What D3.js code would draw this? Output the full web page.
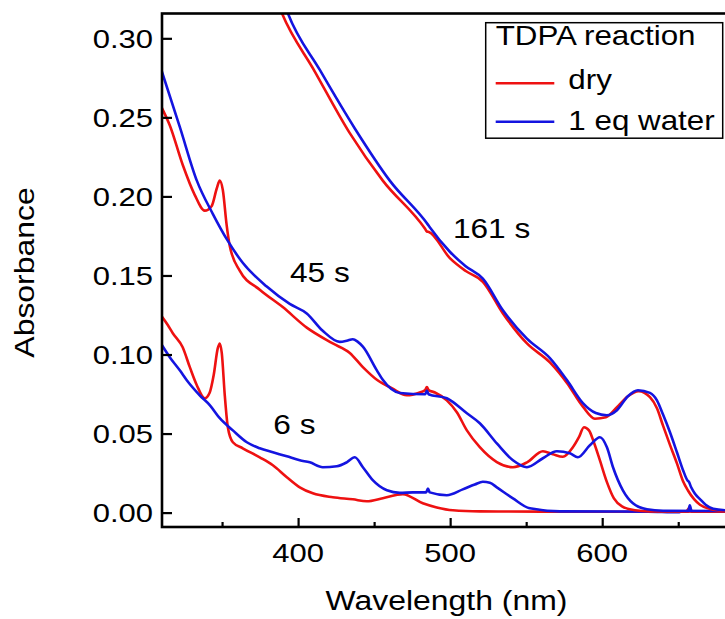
<!DOCTYPE html>
<html>
<head>
<meta charset="utf-8">
<script src="https://cdn.jsdelivr.net/npm/d3@7"></script>
<style>
  html, body { margin: 0; padding: 0; background: #fff; }
  svg { display: block; font-family: "Liberation Sans", Arial, sans-serif; }
</style>
</head>
<body>
<svg id="chart" width="725" height="619"></svg>
<script>
// axis ranges and ticks
const wavelengthRange = [310.5, 684.7];
const absorbanceRange = [-0.0091, 0.3157];
const xMajorTicks = [400, 500, 600];
const xMinorTicks = [350, 450, 550, 650];
const yTicks = [0, 0.05, 0.10, 0.15, 0.20, 0.25, 0.30];

// spectra: [wavelength nm, absorbance]
const dry6 = [
  [310.4, 0.124], [314.4, 0.1185], [317.6, 0.1135], [324.1, 0.1046], [328.8, 0.092],
  [333.4, 0.0806], [338.6, 0.0723], [341.9, 0.076], [344.5, 0.087], [347.2, 0.104],
  [348.5, 0.107], [349.8, 0.101], [351.8, 0.074], [353.8, 0.054], [357.1, 0.0445],
  [363.6, 0.0407], [374.8, 0.035], [383.4, 0.030], [392.6, 0.0224], [401.1, 0.016],
  [409.7, 0.0122], [422.8, 0.0097], [436.0, 0.0084], [445.2, 0.0072], [455.7, 0.0091],
  [468.9, 0.0116], [482.0, 0.0059], [491.2, 0.0033], [501.8, 0.0015], [519.5, 0.0008],
  [560, 0.0006], [620, 0.0005], [655, 0.0006], [657.5, 0.003], [659, 0.0006], [685, 0.0005]
];
const water6 = [
  [310.4, 0.106], [315.6, 0.0983], [322.2, 0.090], [326.8, 0.0837], [335.3, 0.0742],
  [341.9, 0.068], [348.5, 0.0597], [357.1, 0.052], [366.3, 0.0445], [374.8, 0.0407],
  [383.4, 0.0382], [392.6, 0.0356], [401.1, 0.0331], [407.7, 0.0318], [416.2, 0.0287],
  [425.5, 0.0293], [432.0, 0.0318], [437.3, 0.035], [442.6, 0.0287], [449.1, 0.0205],
  [458.4, 0.0141], [466.9, 0.0125], [475.5, 0.0128], [484.2, 0.0128], [485.4, 0.0152],
  [486.6, 0.0128], [497.8, 0.011], [508.3, 0.0147], [516.2, 0.0178], [521.5, 0.0195],
  [526.1, 0.0189], [530.7, 0.016], [541.3, 0.009], [552.4, 0.0027], [572.2, 0.0008],
  [630, 0.0006], [650, 0.0002], [653, 0.0009], [656.5, 0.0006], [657.6, 0.0047],
  [658.8, 0.0008], [685, 0.0006]
];
const dry45 = [
  [310.4, 0.256], [315.6, 0.245], [324.1, 0.220], [332.0, 0.201], [338.6, 0.191],
  [343.2, 0.194], [346.5, 0.205], [348.5, 0.210], [350.5, 0.204], [353.0, 0.182],
  [355.0, 0.169], [361.6, 0.153], [374.8, 0.141], [389.9, 0.130], [405.7, 0.117],
  [422.8, 0.107], [434.0, 0.101], [442.6, 0.092], [451.8, 0.084], [461.6, 0.0787],
  [471.5, 0.0742], [480.0, 0.076], [483.6, 0.0775], [484.7, 0.0795], [485.8, 0.0775],
  [490.0, 0.076], [497.8, 0.071], [504.4, 0.0635], [511.0, 0.052], [519.5, 0.0414],
  [530.7, 0.032], [541.3, 0.0287], [550.5, 0.0318], [561.0, 0.0388], [567.6, 0.0369],
  [574.1, 0.0353], [580.7, 0.0413], [584.7, 0.0477], [588.0, 0.054], [591.3, 0.052],
  [594.5, 0.0445], [598.5, 0.033], [603.1, 0.0193], [607.7, 0.009], [613.0, 0.004],
  [621.5, 0.0015], [631.4, 0.0008], [685, 0.0006]
];
const water45 = [
  [310.4, 0.279], [322.2, 0.244], [333.4, 0.210], [343.9, 0.189], [353.7, 0.172],
  [363.6, 0.158], [379.4, 0.143], [394.5, 0.132], [405.7, 0.126], [416.2, 0.115],
  [427.4, 0.108], [432.0, 0.1087], [436.0, 0.1097], [439.3, 0.108], [442.6, 0.105],
  [451.8, 0.090], [455.7, 0.084], [466.9, 0.0757], [483.6, 0.0749], [484.7, 0.0772],
  [485.8, 0.0749], [497.8, 0.0723], [511.0, 0.0628], [519.5, 0.0565], [530.7, 0.0438],
  [541.3, 0.0331], [550.5, 0.0287], [561.0, 0.0344], [570.2, 0.0388], [578.7, 0.0375],
  [584.0, 0.035], [591.9, 0.0426], [598.5, 0.0477], [603.1, 0.0413], [607.1, 0.0287],
  [613.6, 0.0141], [620.2, 0.0059], [629.4, 0.0021], [640, 0.0012], [685, 0.001]
];
const dry161 = [
  [380.0, 0.340], [389.3, 0.316], [411.0, 0.279], [434.0, 0.240], [455.7, 0.210],
  [483.5, 0.1795], [484.7, 0.1778], [486.0, 0.1775], [499.8, 0.161], [510.0, 0.153],
  [521.5, 0.146], [534.7, 0.126], [550.5, 0.107], [565.6, 0.095], [576.8, 0.082],
  [587.3, 0.067], [595.2, 0.0594], [602.4, 0.0603], [609.7, 0.0667], [616.9, 0.0736],
  [624.0, 0.0768], [631.4, 0.073], [636.0, 0.066], [640.0, 0.055], [644.5, 0.043],
  [649.2, 0.031], [653.1, 0.020], [656.4, 0.014], [660.4, 0.0085], [664.3, 0.005],
  [670.9, 0.0023], [680.7, 0.001], [685, 0.0009]
];
const water161 = [
  [384.7, 0.340], [393.2, 0.316], [414.3, 0.280], [437.3, 0.243], [460.3, 0.210],
  [485.5, 0.182], [486.6, 0.1805], [499.8, 0.165], [510.0, 0.156], [521.5, 0.148],
  [534.7, 0.128], [550.5, 0.110], [565.6, 0.0977], [576.8, 0.0838], [587.3, 0.0693],
  [595.8, 0.063], [603.0, 0.0616], [609.7, 0.0648], [616.9, 0.0736], [623.5, 0.0774],
  [631.4, 0.0757], [636.0, 0.071], [640.0, 0.062], [644.5, 0.051], [649.2, 0.038],
  [653.1, 0.027], [656.0, 0.0205], [657.0, 0.0195], [658.5, 0.016], [661.0, 0.012],
  [664.3, 0.0085], [668.0, 0.005], [673.0, 0.0025], [685, 0.0012]
];

const seriesNames = ['dry', '1 eq water'];
const seriesColors = ['#ee1111', '#1414e0'];
const timeLabels = ['6 s', '45 s', '161 s'];

const svg = d3.select('#chart');
const margin = { top: 13.5, left: 162 };
const plotW = 569;
const plotH = 513.5;

const x = d3.scaleLinear().domain(wavelengthRange).range([margin.left, margin.left + plotW]);
const y = d3.scaleLinear().domain(absorbanceRange).range([margin.top + plotH, margin.top]);

// text stretched horizontally like the source figure
function label(g, px, py, str, size, anchor, sx, rot) {
  const t = g.append('g')
    .attr('transform', 'translate(' + px + ',' + py + ')' + (rot ? ' rotate(' + rot + ')' : '') + ' scale(' + sx + ',1)');
  t.append('text')
    .attr('text-anchor', anchor)
    .attr('font-size', size)
    .attr('fill', '#000')
    .text(str);
  return t;
}

svg.append('defs').append('clipPath').attr('id', 'plotClip')
  .append('rect')
  .attr('x', margin.left).attr('y', margin.top)
  .attr('width', plotW).attr('height', plotH);

// Lines
const line = d3.line()
  .x((d) => x(d[0]))
  .y((d) => y(d[1]))
  .curve(d3.curveMonotoneX);

const lineGroup = svg.append('g').attr('clip-path', 'url(#plotClip)');
const groups = [[dry6, water6], [dry45, water45], [dry161, water161]];
groups.forEach((pair) => {
  pair.forEach((data, i) => {
    lineGroup.append('path')
      .datum(data)
      .attr('d', line)
      .attr('fill', 'none')
      .attr('stroke', seriesColors[i])
      .attr('stroke-width', 2.6)
      .attr('stroke-linejoin', 'round')
      .attr('stroke-linecap', 'round');
  });
});

// Frame
svg.append('rect')
  .attr('x', margin.left).attr('y', margin.top)
  .attr('width', plotW).attr('height', plotH)
  .attr('fill', 'none')
  .attr('stroke', '#000')
  .attr('stroke-width', 2.6);

// Axes, ticks inward
const xAxis = d3.axisBottom(x).tickValues(xMajorTicks).tickSize(-9).tickFormat('');
const xMinor = d3.axisBottom(x).tickValues(xMinorTicks).tickSize(-5).tickFormat('');
const yAxis = d3.axisLeft(y).tickValues(yTicks).tickSize(-10).tickFormat('');

[
  svg.append('g').attr('transform', 'translate(0,' + (margin.top + plotH) + ')').call(xAxis),
  svg.append('g').attr('transform', 'translate(0,' + (margin.top + plotH) + ')').call(xMinor),
  svg.append('g').attr('transform', 'translate(' + margin.left + ',0)').call(yAxis),
].forEach((g) => {
  g.select('.domain').remove();
  g.selectAll('line').attr('stroke', '#000').attr('stroke-width', 2.2);
});

// Tick labels
const fmt = d3.format('.2f');
const labels = svg.append('g');
xMajorTicks.forEach((v) => label(labels, x(v), 562, String(v), 26.5, 'middle', 1.17));
yTicks.forEach((v) => label(labels, 153, y(v) + 9.5, fmt(v), 26.5, 'end', 1.17));

// Axis titles
label(labels, 446.5, 610, 'Wavelength (nm)', 28, 'middle', 1.14);
label(labels, 33.5, 272.5, 'Absorbance', 28, 'middle', 1.14, -90);

// Time annotations
const annot = [[383.7, 0.050], [394.7, 0.146], [501.8, 0.1737]];
timeLabels.forEach((t, i) => {
  label(labels, x(annot[i][0]), y(annot[i][1]), t, 28, 'start', 1.13);
});

// Legend
const legend = svg.append('g');
legend.append('rect')
  .attr('x', 485.7).attr('y', 22.7)
  .attr('width', 237).attr('height', 115.5)
  .attr('fill', '#fff')
  .attr('stroke', '#000')
  .attr('stroke-width', 1.5);
label(legend, 495.7, 45, 'TDPA reaction', 28, 'start', 1.12);
seriesNames.forEach((name, i) => {
  const ly = 83.3 + i * 38.4;
  legend.append('line')
    .attr('x1', 495.7).attr('x2', 554.3)
    .attr('y1', ly).attr('y2', ly)
    .attr('stroke', seriesColors[i])
    .attr('stroke-width', 2.6);
  label(legend, 568.3, ly + 5.5 + i * 2.5, name, 28, 'start', 1.12);
});
</script>
</body>
</html>
